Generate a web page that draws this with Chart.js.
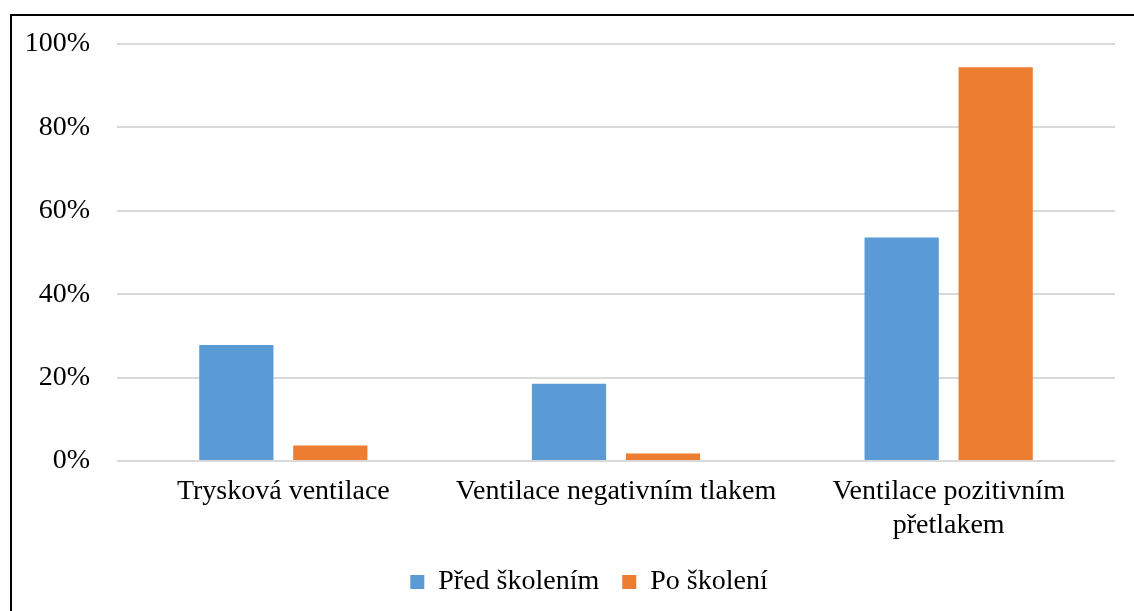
<!DOCTYPE html>
<html>
<head>
<meta charset="utf-8">
<script src="https://cdn.jsdelivr.net/npm/chart.js@4"></script>
<style>
  html, body { margin: 0; padding: 0; background: #fff; overflow: hidden; }
  #wrap { position: relative; width: 1134px; height: 611px; }
  #frame { position: absolute; left: 10px; top: 14px; width: 1140px; height: 620px; border: 2px solid #000; box-sizing: border-box; pointer-events: none; }
  canvas { position: absolute; left: 0; top: 0; }
</style>
</head>
<body>
<div id="wrap">
  <canvas id="c" width="1134" height="611"></canvas>
  <div id="frame"></div>
</div>
<script>
const categories = ['Trysková ventilace', 'Ventilace negativním tlakem', ['Ventilace pozitivním', 'přetlakem']];
const seriesNames = ['Před školením', 'Po školení'];
const beforeValues = [27.8, 18.5, 53.6];
const afterValues = [3.7, 1.8, 94.4];
const tickLabels = ['0%', '20%', '40%', '60%', '80%', '100%'];

const FONT = { family: '"Liberation Serif", "Times New Roman", serif', size: 28 };

const legendShift = {
  id: 'legendShift',
  afterLayout(chart) { if (chart.legend) chart.legend.left += 63; }
};

new Chart(document.getElementById('c'), {
  type: 'bar',
  data: {
    labels: categories,
    datasets: [
      { label: seriesNames[0], data: beforeValues, backgroundColor: '#5B9BD5', borderWidth: 0,
        categoryPercentage: 0.565, barPercentage: 0.79 },
      { label: seriesNames[1], data: afterValues, backgroundColor: '#ED7D31', borderWidth: 0,
        categoryPercentage: 0.565, barPercentage: 0.79 }
    ]
  },
  plugins: [legendShift],
  options: {
    responsive: false,
    animation: false,
    devicePixelRatio: 1,
    layout: { padding: { left: 0, right: 19, top: 44, bottom: 5 } },
    plugins: {
      tooltip: { enabled: false },
      legend: {
        position: 'bottom',
        labels: {
          font: FONT, color: '#000',
          boxWidth: 14, boxHeight: 14, padding: 23
        }
      }
    },
    scales: {
      x: {
        grid: { display: false, drawTicks: false },
        border: { display: false },
        ticks: { font: FONT, color: '#000', padding: 14, maxRotation: 0, autoSkip: false },
        afterFit(scale) { scale.height = 84; }
      },
      y: {
        min: 0, max: 100,
        grid: { color: '#d9d9d9', lineWidth: 2, drawTicks: false },
        border: { display: false },
        ticks: { font: FONT, color: '#000', padding: 27, stepSize: 20,
                 callback: (v, i) => tickLabels[i] },
        afterFit(scale) { scale.width = 117; }
      }
    }
  }
});
</script>
</body>
</html>
